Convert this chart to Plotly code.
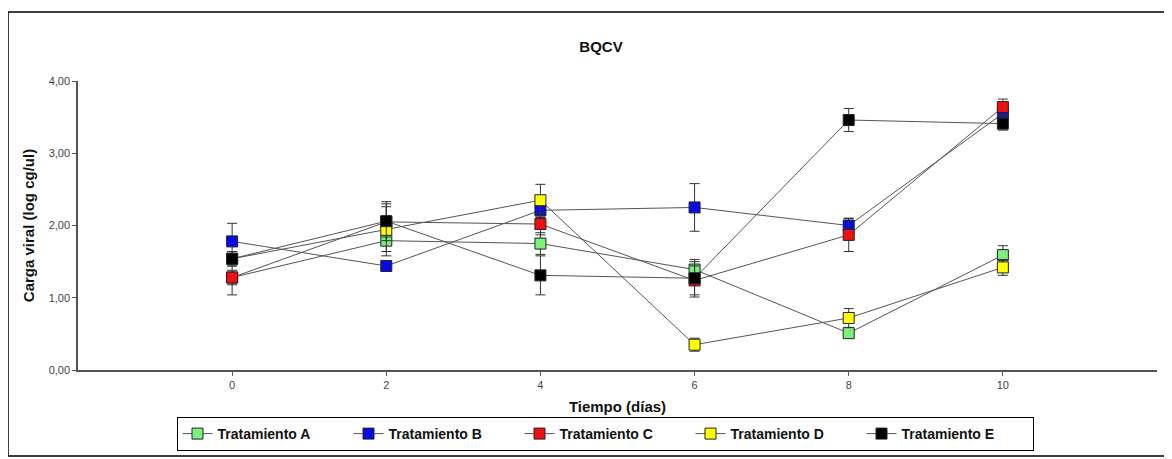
import plotly.graph_objects as go

dias = [0, 2, 4, 6, 8, 10]
series_names = ["Tratamiento A", "Tratamiento B", "Tratamiento C", "Tratamiento D", "Tratamiento E"]
trat_a = [1.28, 1.79, 1.75, 1.39, 0.51, 1.59]
trat_b = [1.78, 1.44, 2.21, 2.25, 2.00, 3.55]
trat_c = [1.28, 2.05, 2.02, 1.24, 1.87, 3.64]
trat_d = [1.54, 1.94, 2.35, 0.35, 0.72, 1.42]
trat_e = [1.54, 2.06, 1.31, 1.27, 3.46, 3.41]
err_a = [0.10, 0.15, 0.15, 0.11, 0.05, 0.13]
err_b = [0.25, 0.05, 0.10, 0.33, 0.10, 0.10]
err_c = [0.24, 0.21, 0.15, 0.20, 0.23, 0.11]
err_d = [0.10, 0.36, 0.22, 0.09, 0.13, 0.11]
err_e = [0.10, 0.27, 0.27, 0.26, 0.16, 0.09]
colors = ["#7CF07C", "#0A0AE6", "#F01010", "#FFFF00", "#000000"]
values = [trat_a, trat_b, trat_c, trat_d, trat_e]
errors = [err_a, err_b, err_c, err_d, err_e]
y_ticks = [0, 1, 2, 3, 4]
x_ticks = [0, 2, 4, 6, 8, 10]

fig = go.Figure()
for name, vals, errs, col in zip(series_names, values, errors, colors):
    fig.add_trace(go.Scatter(
        x=dias, y=vals, name=name, mode="lines+markers",
        line=dict(color="#555555", width=1),
        marker=dict(symbol="square", size=11, color=col, line=dict(color="#222222", width=1)),
        error_y=dict(type="data", array=errs, visible=True, color="#333333", thickness=1, width=5),
    ))

# page offset from the default 8px body margin
OFF = 8
W, H = 1172 - OFF, 459 - OFF
# plot area in page pixels
PL, PR, PT, PB = 78, 1157, 81, 370
L = PL - OFF
T = PT - OFF
R = W - (PR - OFF)
B = H - (PB - OFF)
pw, ph = W - L - R, H - T - B

def px_to_paper_x(px):
    return (px - PL) / pw

def px_to_paper_y(py):
    return (PB - py) / ph

fig.add_shape(type="rect", xref="paper", yref="paper",
              x0=px_to_paper_x(8), x1=px_to_paper_x(1165),
              y0=px_to_paper_y(456), y1=px_to_paper_y(12),
              line=dict(color="#000000", width=1.5), fillcolor="rgba(0,0,0,0)", layer="below")

fig.update_layout(
    width=W, height=H,
    margin=dict(l=L, r=R, t=T, b=B, autoexpand=False),
    paper_bgcolor="white", plot_bgcolor="white",
    separators=",.",
    title=dict(text="<b>BQCV</b>", x=px_to_paper_x(601), xref="paper", xanchor="center",
               y=1 - (47 - OFF) / H, yanchor="middle",
               font=dict(family="Liberation Sans, Arial, sans-serif", size=15, color="#111111")),
    showlegend=True,
    legend=dict(orientation="h", x=px_to_paper_x(605), xanchor="center",
                yref="container", y=1 - (434 - OFF) / H, yanchor="middle",
                bordercolor="#000000", borderwidth=1, bgcolor="white",
                entrywidth=126, entrywidthmode="pixels",
                font=dict(family="Liberation Sans, Arial, sans-serif", size=14, color="#111111", weight="bold"),
                itemwidth=30, tracegroupgap=0),
    font=dict(family="Liberation Sans, Arial, sans-serif"),
)
fig.update_xaxes(range=[-2, 12], tickvals=x_ticks, ticktext=[str(v) for v in x_ticks],
                 showgrid=False, zeroline=False, showline=True, linecolor="#555555", linewidth=1.5,
                 ticks="outside", ticklen=4, tickcolor="#555555",
                 tickfont=dict(family="Liberation Sans, Arial", size=11, color="#444444"),
                 title=dict(text="<b>Tiempo (días)</b>", standoff=12,
                            font=dict(family="Liberation Sans, Arial", size=15, color="#111111")))
fig.update_yaxes(range=[0, 4], tickvals=y_ticks, tickformat=".2f",
                 showgrid=False, zeroline=False, showline=True, linecolor="#555555", linewidth=1.5,
                 ticks="outside", ticklen=4, tickcolor="#555555",
                 tickfont=dict(family="Liberation Sans, Arial", size=11, color="#444444"),
                 title=dict(text="<b>Carga viral (log cg/ul)</b>", standoff=10,
                            font=dict(family="Liberation Sans, Arial", size=15, color="#111111")))

fig.write_html("out.html")
